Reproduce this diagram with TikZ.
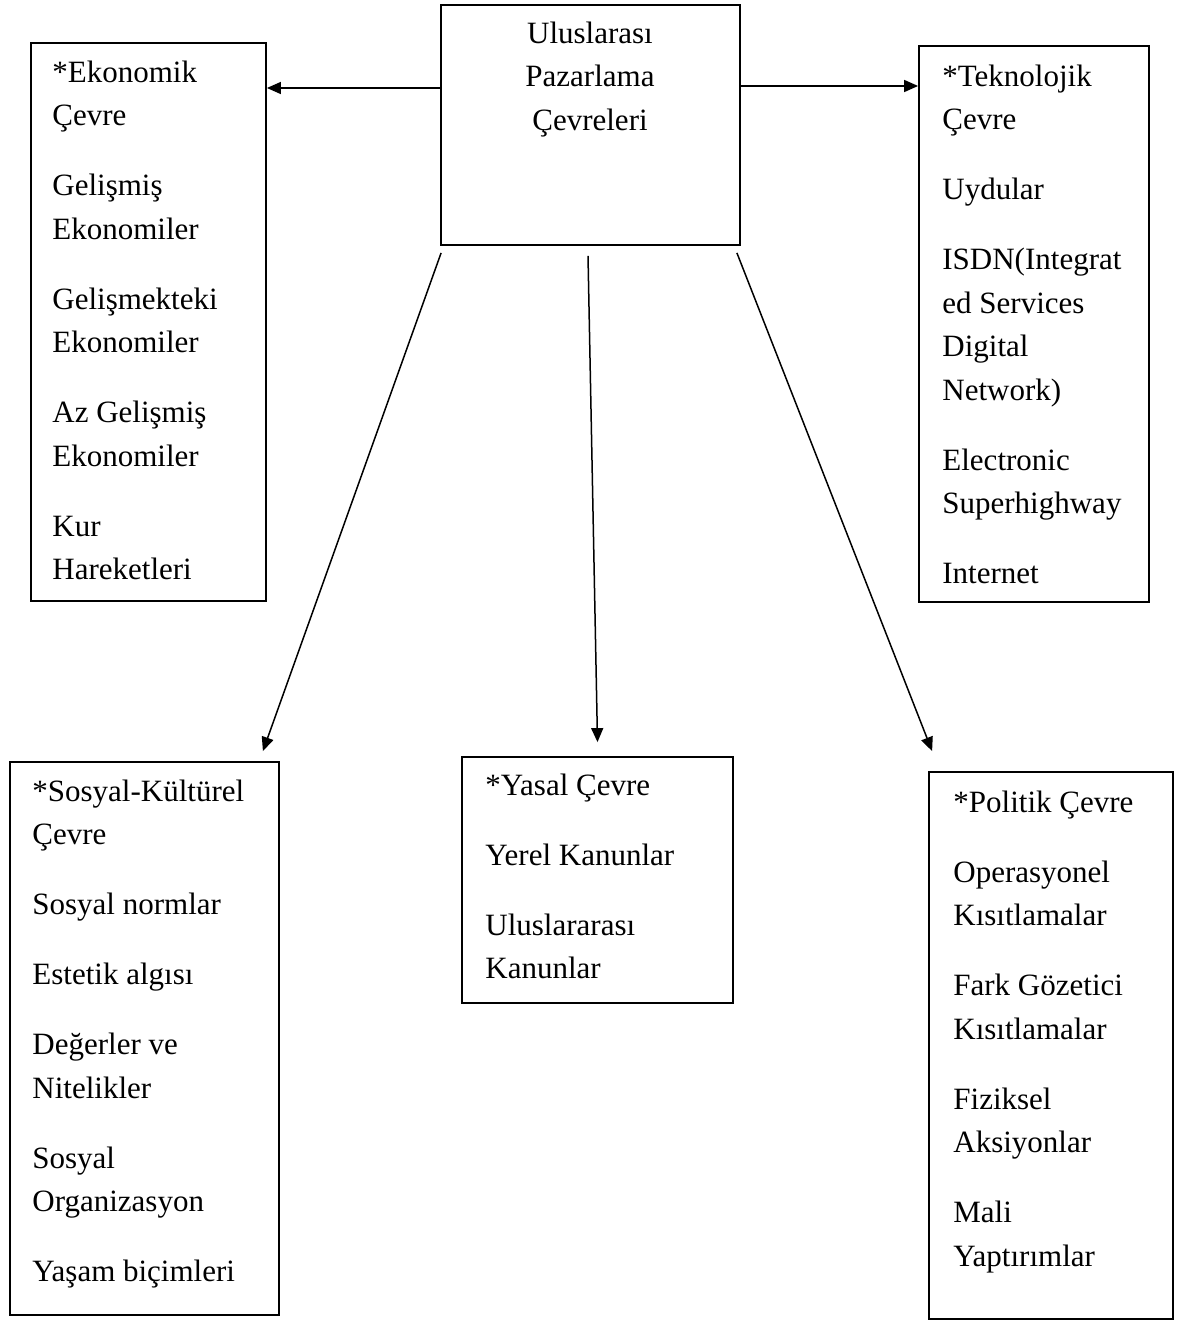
\documentclass[tikz,border=0pt]{standalone}
\usepackage{fontspec}
\setmainfont{Liberation Serif}
\usetikzlibrary{arrows.meta}
\tikzset{
  box/.style={draw, line width=0.9pt, inner sep=0pt, rectangle},
  txt/.style={anchor=north west, align=left, inner sep=0pt, font={\fontsize{15.5}{21.75}\selectfont}},
  ctxt/.style={anchor=north, align=center, inner sep=0pt, font={\fontsize{15.5}{21.75}\selectfont}},
  arr/.style={line width=0.75pt, -{Triangle[length=7pt,width=6pt]}}
}
\begin{document}
\begin{tikzpicture}[x=0.5pt,y=-0.5pt]
\useasboundingbox (0,0) rectangle (1180,1321);
% boxes
\node[box, minimum width=149.5pt, minimum height=120pt] (top) at (590.5,125) {};
\node[box, minimum width=117.5pt, minimum height=279pt] (eko) at (148.5,322) {};
\node[box, minimum width=115pt, minimum height=278pt] (tek) at (1034,324) {};
\node[box, minimum width=134.5pt, minimum height=276.5pt] (soc) at (144.5,1038.5) {};
\node[box, minimum width=135.5pt, minimum height=123pt] (yas) at (597.5,880) {};
\node[box, minimum width=122pt, minimum height=273.5pt] (pol) at (1051,1045.5) {};
% texts
\node[ctxt] (topt) at (590,12.5) {\strut Uluslarası\\Pazarlama\\Çevreleri};
\node[txt] (ekot) at (52,51.5) {\strut *Ekonomik\\Çevre\\[13.25pt]Gelişmiş\\Ekonomiler\\[13.25pt]Gelişmekteki\\Ekonomiler\\[13.25pt]Az Gelişmiş\\Ekonomiler\\[13.25pt]Kur\\Hareketleri};
\node[txt] (tekt) at (942,55.5) {\strut *Teknolojik\\Çevre\\[13.25pt]Uydular\\[13.25pt]ISDN(Integrat\\ed Services\\Digital\\Network)\\[13.25pt]Electronic\\Superhighway\\[13.25pt]Internet};
\node[txt] (soct) at (32,770.5) {\strut *Sosyal-Kültürel\\Çevre\\[13.25pt]Sosyal normlar\\[13.25pt]Estetik algısı\\[13.25pt]Değerler ve\\Nitelikler\\[13.25pt]Sosyal\\Organizasyon\\[13.25pt]Yaşam biçimleri};
\node[txt] (yast) at (485,764.5) {\strut *Yasal Çevre\\[13.25pt]Yerel Kanunlar\\[13.25pt]Uluslararası\\Kanunlar};
\node[txt] (polt) at (953,781.5) {\strut *Politik Çevre\\[13.25pt]Operasyonel\\Kısıtlamalar\\[13.25pt]Fark Gözetici\\Kısıtlamalar\\[13.25pt]Fiziksel\\Aksiyonlar\\[13.25pt]Mali\\Yaptırımlar};
% connectors
\coordinate (hl) at ([yshift=18.5pt]top.west);
\coordinate (hr) at ([yshift=19.5pt]top.east);
\draw[arr] (hl) -- (hl -| eko.east);
\draw[arr] (hr) -- (hr -| tek.west);
\draw[arr] ([shift={(0.5pt,-3.5pt)}]top.south west) -- ([shift={(-8.5pt,5pt)}]soc.north east);
\draw[arr] ([shift={(-1.25pt,-5pt)}]top.south) -- ([yshift=7pt]yas.north);
\draw[arr] ([shift={(-2pt,-3.5pt)}]top.south east) -- ([shift={(2pt,10pt)}]pol.north west);
\end{tikzpicture}
\end{document}
